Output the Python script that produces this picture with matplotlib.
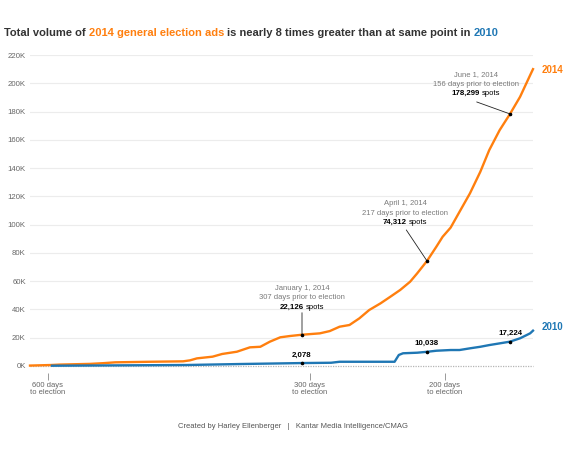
import numpy as np
import matplotlib
matplotlib.use('Agg')
import matplotlib.pyplot as plt

plt.rcParams['font.family'] = ['Liberation Sans', 'DejaVu Sans']

# ---------------- data ----------------
days_2014 = [620, 596, 586, 551, 536, 522, 482, 444, 436, 428, 410, 399, 382, 367, 355,
             344, 332, 321, 307, 293, 286, 279, 272, 265, 258, 250, 243, 236, 229, 224,
             217, 208, 202, 196, 190, 183, 176, 170, 163, 156, 149, 142, 140]
spots_2014 = [300, 700, 1000, 1500, 2000, 2600, 3000, 3300, 4000, 5400, 6600, 8500, 10100,
              13200, 13600, 17200, 20300, 21200, 22126, 23100, 24700, 27800, 29000, 33700,
              39600, 44300, 49000, 53800, 59600, 65500, 74312, 84400, 91400, 97900, 109100,
              122100, 137400, 152700, 166800, 178299, 190400, 205700, 210000]

days_2010 = [595, 440, 378, 307, 285, 279, 240, 237, 234, 224, 217, 208, 196, 190, 183,
             176, 170, 163, 156, 149, 142, 140]
spots_2010 = [200, 700, 1400, 2078, 2300, 3000, 3000, 7800, 9000, 9400, 10038, 10800,
              11300, 11300, 12500, 13600, 14800, 16000, 17224, 19600, 23100, 25000]

y_ticks = list(range(0, 220001, 20000))
y_tick_labels = [f'{v // 1000}K' for v in y_ticks]
x_ticks = [600, 300, 200]
x_tick_labels = ['600 days\nto election', '300 days\nto election', '200 days\nto election']

annot_days = [307, 217, 156]
annot_dates = ['January 1, 2014', 'April 1, 2014', 'June 1, 2014']
annot_2014 = [22126, 74312, 178299]
annot_2010 = [2078, 10038, 17224]

title_parts = [('Total volume of', '#333333'), ('2014 general election ads', '#ff7f0e'),
               ('is nearly 8 times greater than at same point in', '#333333'), ('2010', '#1f77b4')]
footer = 'Created by Harley Ellenberger   |   Kantar Media Intelligence/CMAG'

ORANGE = '#ff7f0e'
BLUE = '#1f77b4'

# ---------------- figure ----------------
W, H = 567, 454
fig = plt.figure(figsize=(W / 100, H / 100), dpi=100)
ax_left, ax_right, ax_top, ax_bot = 30, 533, 55, 366
ax = fig.add_axes([ax_left / W, 1 - ax_bot / H, (ax_right - ax_left) / W, (ax_bot - ax_top) / H])

# piecewise-linear time scale (days to election -> horizontal position); increasing in days
knot_days = np.array([620, 600, 307, 300, 217, 200, 156, 140], dtype=float)
knot_pos = np.array([30, 47.6, 302, 310, 427, 444.7, 510, 533])


def fwd(d):
    return -np.interp(-np.asarray(d, dtype=float), -knot_days, knot_pos)


def inv(y):
    return -np.interp(-np.asarray(y, dtype=float), knot_pos, -knot_days)


ax.set_xscale('function', functions=(fwd, inv))
ax.set_xlim(620, 140)
ax.set_ylim(0, 220000)

for s in ax.spines.values():
    s.set_visible(False)
ax.spines['bottom'].set_position(('outward', 5))

for v in y_ticks[1:]:
    ax.axhline(v, color='#ececec', lw=0.8, zorder=0)
ax.axhline(0, color='#b5b5b5', lw=0.9, ls=(0, (1, 1)), zorder=1, clip_on=False)

ax.set_yticks(y_ticks)
ax.set_yticklabels(y_tick_labels)
ax.tick_params(axis='y', length=0, pad=3, labelsize=5.6, labelcolor='#666666')
ax.set_xticks(x_ticks)
ax.set_xticklabels(x_tick_labels)
ax.xaxis.set_minor_locator(matplotlib.ticker.NullLocator())
ax.tick_params(axis='x', length=5, width=0.7, color='#999999', pad=1.5,
               labelsize=5.5, labelcolor='#666666')
for lab in ax.get_xticklabels():
    lab.set_linespacing(1.05)

ax.plot(days_2014, spots_2014, color=ORANGE, lw=1.7, clip_on=False, zorder=3,
        solid_joinstyle='round')
ax.plot(days_2010, spots_2010, color=BLUE, lw=1.7, clip_on=False, zorder=3,
        solid_joinstyle='round')

# markers
ax.plot(annot_days, annot_2014, 'o', color='black', ms=1.6, zorder=5, clip_on=False)
ax.plot(annot_days, annot_2010, 'o', color='black', ms=1.6, zorder=5, clip_on=False)

renderer = fig.canvas.get_renderer()


def text_w(s, **kw):
    t = fig.text(0, 0, s, **kw)
    w = t.get_window_extent(renderer).width
    t.remove()
    return w


PT = 72 / 100  # points per pixel

# 2014 annotations: (leader top offset px, text center offset px)
leader_off = [(0, 22), (-20.7, 31), (-33.3, 12)]
text_off = [(0, 27.5), (-21.7, 38.3), (-34.3, 20.4)]
ANN_FS = 5.5
for d, v, date, lo, to in zip(annot_days, annot_2014, annot_dates, leader_off, text_off):
    ax.annotate('', xy=(d, v), xytext=(lo[0] * PT, lo[1] * PT), textcoords='offset points',
                arrowprops=dict(arrowstyle='-', lw=0.6, color='#222222', shrinkA=0, shrinkB=0),
                zorder=4)
    ax.annotate(date, xy=(d, v), xytext=(to[0] * PT, (to[1] + 19) * PT),
                textcoords='offset points', ha='center', va='center', fontsize=ANN_FS,
                color='#7a7a7a')
    ax.annotate(f'{d} days prior to election', xy=(d, v),
                xytext=(to[0] * PT, (to[1] + 9.5) * PT), textcoords='offset points',
                ha='center', va='center', fontsize=ANN_FS, color='#7a7a7a')
    num = f'{v:,}'
    wn = text_w(num, fontsize=ANN_FS + 0.2, fontweight='bold')
    ws = text_w('spots', fontsize=ANN_FS)
    sp = text_w('a a', fontsize=ANN_FS) - text_w('aa', fontsize=ANN_FS)
    total = wn + sp + ws
    x0 = to[0] - total / 2
    ax.annotate(num, xy=(d, v), xytext=(x0 * PT, to[1] * PT), textcoords='offset points',
                ha='left', va='center', fontsize=ANN_FS + 0.2, fontweight='bold', color='black')
    ax.annotate('spots', xy=(d, v), xytext=((x0 + wn + sp) * PT, to[1] * PT),
                textcoords='offset points', ha='left', va='center', fontsize=ANN_FS,
                color='black')

for d, v in zip(annot_days, annot_2010):
    ax.annotate(f'{v:,}', xy=(d, v), xytext=(0, 8 * PT), textcoords='offset points',
                ha='center', va='center', fontsize=ANN_FS + 0.2, fontweight='bold',
                color='black')

# series labels
ax.annotate('2014', xy=(days_2014[-1], spots_2014[-1]), xytext=(8.7 * PT, -0.7 * PT),
            textcoords='offset points', ha='left', va='center', fontsize=7,
            fontweight='bold', color=ORANGE, annotation_clip=False)
ax.annotate('2010', xy=(days_2010[-1], spots_2010[-1]), xytext=(8.7 * PT, 3.7 * PT),
            textcoords='offset points', ha='left', va='center', fontsize=7,
            fontweight='bold', color=BLUE, annotation_clip=False)

# title (multi-coloured)
TFS = 8.0
x = 4
sp_t = text_w('a a', fontsize=TFS, fontweight='bold') - text_w('aa', fontsize=TFS, fontweight='bold')
for txt, col in title_parts:
    fig.text(x / W, 1 - 33 / H, txt, color=col, fontsize=TFS, fontweight='bold',
             ha='left', va='center')
    x += text_w(txt, fontsize=TFS, fontweight='bold') + sp_t

fig.text(293 / W, 1 - 427 / H, footer, ha='center', va='center', fontsize=5.5,
         color='#555555')

fig.savefig('out.png', dpi=100)
